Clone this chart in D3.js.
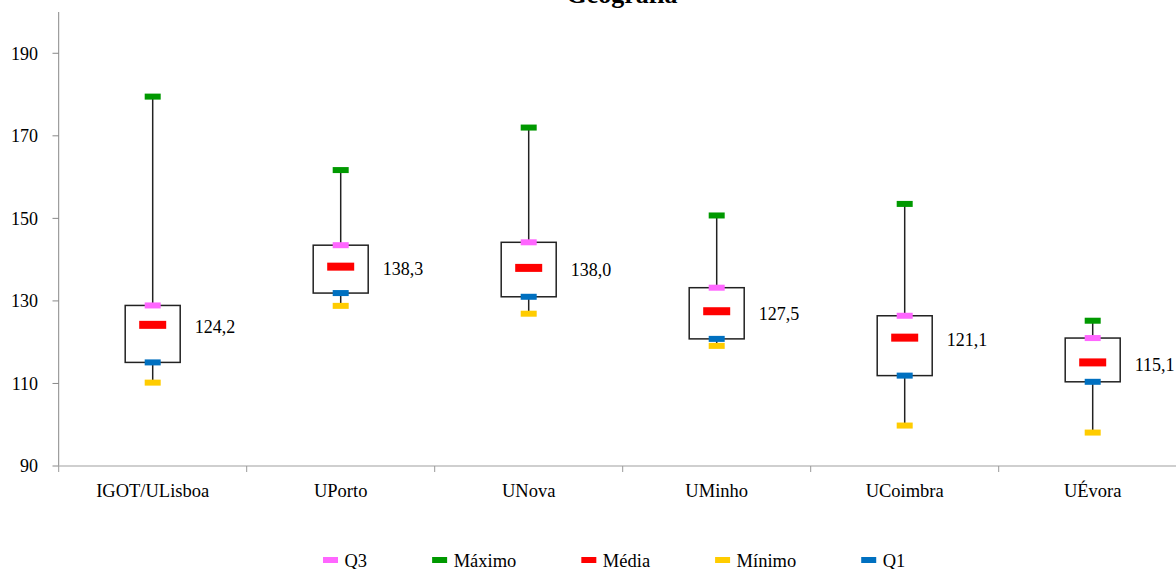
<!DOCTYPE html>
<html>
<head>
<meta charset="utf-8">
<script src="https://cdn.jsdelivr.net/npm/d3@7"></script>
<style>
  html, body { margin: 0; padding: 0; background: #fff; }
  svg { display: block; }
</style>
</head>
<body>
<svg id="chart" width="1176" height="569"></svg>
<script>
const title = "Geografia";
const categories = ["IGOT/ULisboa", "UPorto", "UNova", "UMinho", "UCoimbra", "UÉvora"];
const maxVals  = [179.5, 161.7, 172.0, 150.7, 153.5, 125.2];
const q3Vals   = [128.9, 143.5, 144.2, 133.2, 126.4, 121.0];
const meanVals = [124.2, 138.3, 138.0, 127.5, 121.1, 115.1];
const q1Vals   = [115.1, 131.9, 131.0, 120.8, 111.9, 110.4];
const minVals  = [110.2, 128.8, 126.9, 119.1, 99.8, 98.1];
const meanLabels = ["124,2", "138,3", "138,0", "127,5", "121,1", "115,1"];
const yTicks = [90, 110, 130, 150, 170, 190];
const legendNames = ["Q3", "Máximo", "Média", "Mínimo", "Q1"];
const legendColors = ["#FF66FF", "#009900", "#FF0000", "#FFCC00", "#0070C0"];

const FONT = '"Liberation Serif", "Times New Roman", serif';
const svg = d3.select("#chart");
const x = d3.scaleBand().domain(categories).range([58.7, 1186.7]).padding(0);
const y = d3.scaleLinear().domain([90, 200]).range([466, 12]);

const rows = categories.map((c, i) => ({
  c, max: maxVals[i], q3: q3Vals[i], mean: meanVals[i], q1: q1Vals[i], min: minVals[i], label: meanLabels[i]
}));
const cx = d => x(d.c) + x.bandwidth() / 2;

const txt = (sel) => sel.style("font-family", FONT).attr("fill", "#000");

// Title (partly cut at top, as in the reference)
txt(svg.append("text").attr("x", 622).attr("y", 3).attr("text-anchor", "middle")
  .attr("font-size", 26).attr("font-weight", "bold")).text(title);

// Y axis
const yAxis = svg.append("g");
yAxis.append("line").attr("x1", 58.7).attr("x2", 58.7).attr("y1", y(200)).attr("y2", y(90))
  .attr("stroke", "#888").attr("stroke-width", 1);
yTicks.forEach(t => {
  yAxis.append("line").attr("x1", 52.5).attr("x2", 58.7).attr("y1", y(t)).attr("y2", y(t))
    .attr("stroke", "#888").attr("stroke-width", 1);
  txt(yAxis.append("text").attr("x", 38).attr("y", y(t)).attr("dy", "0.35em").attr("text-anchor", "end")
    .attr("font-size", 18)).text(t);
});

// X axis
const xAxis = svg.append("g");
xAxis.append("line").attr("x1", 58.7).attr("x2", 1186.7).attr("y1", y(90)).attr("y2", y(90))
  .attr("stroke", "#bfbfbf").attr("stroke-width", 1.5);
categories.forEach(c => {
  xAxis.append("line").attr("x1", x(c)).attr("x2", x(c)).attr("y1", y(90)).attr("y2", y(90) + 6)
    .attr("stroke", "#999").attr("stroke-width", 1);
  txt(xAxis.append("text").attr("x", x(c) + x.bandwidth() / 2).attr("y", 497).attr("text-anchor", "middle")
    .attr("font-size", 18.5)).text(c);
});

// Whiskers & boxes
const g = svg.append("g");
rows.forEach(d => {
  const c = cx(d);
  g.append("line").attr("x1", c).attr("x2", c).attr("y1", y(d.max)).attr("y2", y(d.q3))
    .attr("stroke", "#222").attr("stroke-width", 1.5);
  g.append("line").attr("x1", c).attr("x2", c).attr("y1", y(d.q1)).attr("y2", y(d.min))
    .attr("stroke", "#222").attr("stroke-width", 1.5);
  g.append("rect").attr("x", c - 27.5).attr("y", y(d.q3)).attr("width", 55)
    .attr("height", y(d.q1) - y(d.q3)).attr("fill", "#fff").attr("stroke", "#222").attr("stroke-width", 1.5);
  const mk = (v, col) => g.append("rect").attr("x", c - 8).attr("y", y(v) - 3)
    .attr("width", 16).attr("height", 6).attr("fill", col);
  mk(d.max, legendColors[1]);
  mk(d.q3, legendColors[0]);
  mk(d.q1, legendColors[4]);
  mk(d.min, legendColors[3]);
  g.append("rect").attr("x", c - 13.5).attr("y", y(d.mean) - 4).attr("width", 27).attr("height", 8)
    .attr("fill", legendColors[2]);
  txt(g.append("text").attr("x", c + 42).attr("y", y(d.mean) + 2).attr("dy", "0.35em")
    .attr("font-size", 18)).text(d.label);
});

// Legend
const leg = svg.append("g");
let lx = 323;
legendNames.forEach((n, i) => {
  leg.append("rect").attr("x", lx).attr("y", 557).attr("width", 15).attr("height", 6).attr("fill", legendColors[i]);
  const t = txt(leg.append("text").attr("x", lx + 21.5).attr("y", 566.5).attr("font-size", 18.5)).text(n);
  lx = lx + 21.5 + t.node().getComputedTextLength() + 65;
});
</script>
</body>
</html>
